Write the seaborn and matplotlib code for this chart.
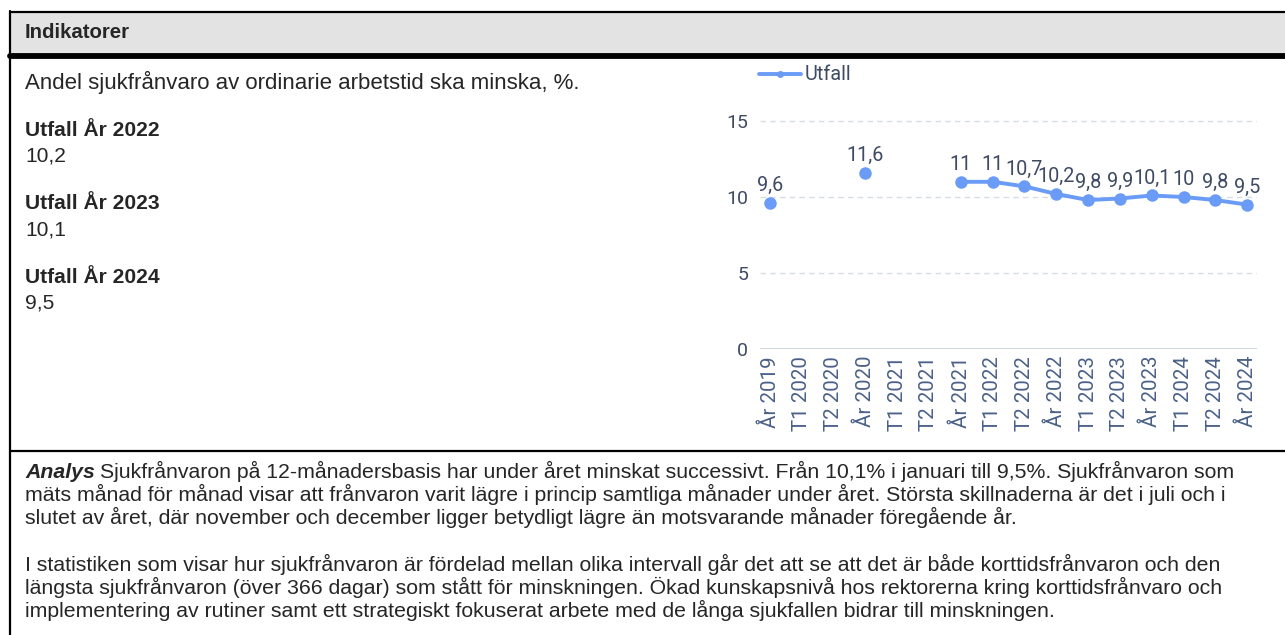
import numpy as np
import pandas as pd
import seaborn as sns
import matplotlib.pyplot as plt
from matplotlib.lines import Line2D
from matplotlib.patches import Rectangle

periods = ["År 2019", "T1 2020", "T2 2020", "År 2020", "T1 2021", "T2 2021",
           "År 2021", "T1 2022", "T2 2022", "År 2022", "T1 2023", "T2 2023",
           "År 2023", "T1 2024", "T2 2024", "År 2024"]
utfall = [9.6, np.nan, np.nan, 11.6, np.nan, np.nan, 11, 11, 10.7, 10.2,
          9.8, 9.9, 10.1, 10, 9.8, 9.5]
yticks = [0, 5, 10, 15]

summary_titles = ["Utfall År 2022", "Utfall År 2023", "Utfall År 2024"]
summary_values = ["10,2", "10,1", "9,5"]

analys_para1 = [
    "Sjukfrånvaron på 12-månadersbasis har under året minskat successivt. Från 10,1% i januari till 9,5%. Sjukfrånvaron som",
    "mäts månad för månad visar att frånvaron varit lägre i princip samtliga månader under året. Största skillnaderna är det i juli och i",
    "slutet av året, där november och december ligger betydligt lägre än motsvarande månader föregående år.",
]
analys_para2 = [
    "I statistiken som visar hur sjukfrånvaron är fördelad mellan olika intervall går det att se att det är både korttidsfrånvaron och den",
    "längsta sjukfrånvaron (över 366 dagar) som stått för minskningen. Ökad kunskapsnivå hos rektorerna kring korttidsfrånvaro och",
    "implementering av rutiner samt ett strategiskt fokuserat arbete med de långa sjukfallen bidrar till minskningen.",
]

W, H = 1285, 635
LINE = "#6a9bf7"
LABEL = "#3e4b63"


def fx(px):
    return px / W


def fy(py):
    return 1 - py / H


sns.set_theme(style="white")
plt.rcParams["font.family"] = ["Liberation Sans", "DejaVu Sans"]

fig = plt.figure(figsize=(W / 100, H / 100), dpi=100)

# table frame
fig.add_artist(Rectangle((fx(10), fy(54)), fx(W) - fx(10), 41 / H,
                         transform=fig.transFigure, facecolor="#e3e3e3",
                         edgecolor="none"))
fig.add_artist(Line2D([fx(10), fx(W)], [fy(12), fy(12)], transform=fig.transFigure,
                      color="black", lw=1.6))
fig.add_artist(Line2D([fx(10), fx(W)], [fy(56), fy(56)], transform=fig.transFigure,
                      color="black", lw=4.2))
fig.add_artist(Line2D([fx(10), fx(10)], [fy(11), fy(H)], transform=fig.transFigure,
                      color="black", lw=1.6))
fig.add_artist(Line2D([fx(10), fx(W)], [fy(451), fy(451)], transform=fig.transFigure,
                      color="black", lw=1.6))

fig.text(fx(25), fy(38), "Indikatorer", fontsize=14.7, fontweight="bold", va="baseline")
fig.text(fx(25), fy(89), "Andel sjukfrånvaro av ordinarie arbetstid ska minska, %.",
         fontsize=16, va="baseline")
for i, (t, v) in enumerate(zip(summary_titles, summary_values)):
    base = 136 + i * 73.5
    fig.text(fx(25), fy(base), t, fontsize=15.1, fontweight="bold", va="baseline")
    fig.text(fx(25), fy(base + 25.5), v, fontsize=15.1, va="baseline")

# analysis text
fs = 15.35
head = fig.text(fx(25), fy(478), "Analys", fontsize=fs, fontweight="bold",
                fontstyle="italic", va="baseline")
fig.canvas.draw()
bb = head.get_window_extent()
fig.text((bb.x1 + 5) / W, fy(478), analys_para1[0], fontsize=fs, va="baseline")
for i, line in enumerate(analys_para1[1:], start=1):
    fig.text(fx(25), fy(478 + 23 * i), line, fontsize=fs, va="baseline")
for i, line in enumerate(analys_para2):
    fig.text(fx(25), fy(571 + 23 * i), line, fontsize=fs, va="baseline")

# chart
df = pd.DataFrame({"pos": np.arange(len(periods)), "period": periods, "utfall": utfall})
df["segment"] = df["utfall"].isna().cumsum()
df = df.dropna()

ax = fig.add_axes([fx(760), fy(349), (1257 - 760) / W, (349 - 105.8) / H])
sns.lineplot(data=df, x="pos", y="utfall", units="segment", estimator=None,
             color=LINE, marker="o", markersize=9, markeredgewidth=0,
             linewidth=2.8, legend=False, ax=ax, zorder=3)

for x, v in zip(df["pos"], df["utfall"]):
    ax.annotate(f"{v:g}".replace(".", ","), (x, v), xytext=(0, 8.5),
                textcoords="offset points", ha="center", va="baseline",
                fontsize=14.3, color=LABEL, family="Roboto", zorder=4)

ax.set_xlim(-0.31, len(periods) - 1 + 0.31)
ax.set_ylim(0, 16)
ax.set_yticks(yticks)
ax.set_xticks(np.arange(len(periods)))
ax.set_xticklabels(periods, rotation=90, fontsize=14.8, color="#4a6188", family="Roboto")
ax.set_yticklabels([str(t) for t in yticks], fontsize=14, color=LABEL, family="Roboto")
ax.tick_params(axis="both", length=0)
ax.tick_params(axis="y", pad=8.5)
ax.tick_params(axis="x", pad=5)
ax.set_xlabel("")
ax.set_ylabel("")
ax.yaxis.grid(True, color="#d6dce4", linestyle=(0, (4, 3)), linewidth=1)
ax.xaxis.grid(False)
ax.axhline(0, color="#c9d3de", linewidth=2, zorder=2)
for s in ax.spines.values():
    s.set_visible(False)
ax.set_facecolor("none")

handle = Line2D([], [], color=LINE, lw=2.8, marker="o", markersize=5,
                markeredgewidth=0)
leg = ax.legend(handles=[handle], labels=["Utfall"], loc="center left",
                bbox_to_anchor=(fx(759), fy(75)), bbox_transform=fig.transFigure,
                frameon=False, handlelength=2.1, handletextpad=0.2, borderpad=0,
                borderaxespad=0, prop={"family": "Roboto", "size": 14.3})
for t in leg.get_texts():
    t.set_color(LABEL)

fig.savefig("out.png", dpi=100)
